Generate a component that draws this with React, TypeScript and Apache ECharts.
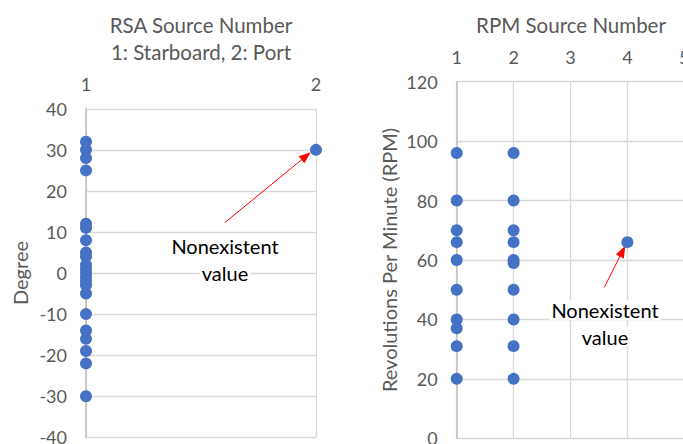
import React, { useEffect, useRef } from "react";
import * as echarts from "echarts";

// ---- Data ----
const rsaStarboardDegrees = [32, 30, 28, 25, 12, 11, 8, 5, 4, 2, 1, 0, -1, -2, -3, -5, -10, -14, -16, -19, -22, -30];
const rsaPortDegrees = [30];
const rpmSource1 = [96, 80, 70, 66, 60, 50, 40, 37, 31, 20];
const rpmSource2 = [96, 80, 70, 66, 60, 59, 50, 40, 31, 20];
const rpmSource4 = [66];
const rsaXTicks = [1, 2];
const rpmXTicks = [1, 2, 3, 4, 5];
const noteLines = ["Nonexistent", "value"];

const FONT = "Lato";
const GRAY = "#595959";
const GRID = "#d9d9d9";
const AXIS = "#bfbfbf";
const BLUE = "#4472C4";

export default function App() {
  const ref = useRef<HTMLDivElement>(null);
  useEffect(() => {
    if (!ref.current) return;
    const chart = echarts.init(ref.current, null, { renderer: "svg" });
    const labelStyle = { color: GRAY, fontSize: 18, fontFamily: FONT };
    const arrowLine = (from: number[], to: number[]) => ({
      silent: true,
      animation: false,
      symbol: ["none", "triangle"],
      symbolSize: [9, 12],
      lineStyle: { color: "#ff0000", width: 1, type: "solid" },
      label: { show: false },
      emphasis: { disabled: true },
      data: [[{ coord: from }, { coord: to }]],
    });
    const note = (x: number, y: number) =>
      noteLines.map((t, i) => ({
        type: "text",
        x,
        y: y + i * 26.5,
        z: 100,
        style: {
          text: t,
          fill: "#000000",
          fontSize: 20,
          fontFamily: FONT,
          align: "center",
          verticalAlign: "middle",
          backgroundColor: "#ffffff",
          padding: [0, 2, 0, 2],
        },
      }));
    chart.setOption({
      animation: false,
      backgroundColor: "#ffffff",
      textStyle: { fontFamily: FONT },
      grid: [
        { left: 86, top: 108.8, width: 230, height: 328.5, containLabel: false, outerBoundsMode: "none" },
        { left: 456.7, top: 81.7, width: 227.6, height: 356.6, containLabel: false, outerBoundsMode: "none" },
      ],
      xAxis: [
        {
          gridIndex: 0,
          type: "value",
          position: "top",
          min: rsaXTicks[0],
          max: rsaXTicks[rsaXTicks.length - 1],
          interval: 1,
          axisLine: { show: false },
          axisTick: { show: false },
          axisLabel: { ...labelStyle, margin: 16 },
          splitLine: { show: true, lineStyle: { color: GRID, width: 1.3 } },
        },
        {
          gridIndex: 1,
          type: "value",
          position: "top",
          min: rpmXTicks[0],
          max: rpmXTicks[rpmXTicks.length - 1],
          interval: 1,
          axisLine: { show: false },
          axisTick: { show: false },
          axisLabel: { ...labelStyle, margin: 16, showMaxLabel: true },
          splitLine: { show: true, lineStyle: { color: GRID, width: 1.3 } },
        },
      ],
      yAxis: [
        {
          gridIndex: 0,
          type: "value",
          min: -40,
          max: 40,
          interval: 10,
          axisLine: { show: true, lineStyle: { color: AXIS, width: 1.5 } },
          axisTick: { show: false },
          axisLabel: { ...labelStyle, margin: 19 },
          splitLine: { show: true, lineStyle: { color: GRID, width: 1.3 } },
        },
        {
          gridIndex: 1,
          type: "value",
          min: 0,
          max: 120,
          interval: 20,
          axisLine: { show: true, lineStyle: { color: AXIS, width: 1.5 } },
          axisTick: { show: false },
          axisLabel: { ...labelStyle, margin: 19 },
          splitLine: { show: true, lineStyle: { color: GRID, width: 1.3 } },
        },
      ],
      series: [
        {
          type: "scatter",
          xAxisIndex: 0,
          yAxisIndex: 0,
          symbolSize: 12,
          itemStyle: { color: BLUE, opacity: 1 },
          data: [
            ...rsaStarboardDegrees.map((v) => [1, v]),
            ...rsaPortDegrees.map((v) => [2, v]),
          ],
          markLine: arrowLine([1.604, 12.3], [1.957, 28.5]),
          z: 5,
        },
        {
          type: "scatter",
          xAxisIndex: 1,
          yAxisIndex: 1,
          symbolSize: 12,
          itemStyle: { color: BLUE, opacity: 1 },
          data: [
            ...rpmSource1.map((v) => [1, v]),
            ...rpmSource2.map((v) => [2, v]),
            ...rpmSource4.map((v) => [4, v]),
          ],
          markLine: arrowLine([3.594, 50.8], [3.915, 63.0]),
          z: 5,
        },
      ],
      graphic: [
        {
          type: "text",
          x: 201,
          y: 38.5,
          z: 100,
          style: {
            text: "RSA Source Number\n1: Starboard, 2: Port",
            fill: GRAY,
            fontSize: 20.5,
            fontFamily: FONT,
            align: "center",
            verticalAlign: "middle",
            lineHeight: 26.7,
          },
        },
        {
          type: "text",
          x: 571,
          y: 25,
          z: 100,
          style: {
            text: "RPM Source Number",
            fill: GRAY,
            fontSize: 20.5,
            fontFamily: FONT,
            align: "center",
            verticalAlign: "middle",
          },
        },
        {
          type: "text",
          x: 20,
          y: 273,
          z: 100,
          rotation: Math.PI / 2,
          style: {
            text: "Degree",
            fill: GRAY,
            fontSize: 20,
            fontFamily: FONT,
            align: "center",
            verticalAlign: "middle",
          },
        },
        {
          type: "text",
          x: 389,
          y: 260,
          z: 100,
          rotation: Math.PI / 2,
          style: {
            text: "Revolutions Per Minute (RPM)",
            fill: GRAY,
            fontSize: 20,
            fontFamily: FONT,
            align: "center",
            verticalAlign: "middle",
          },
        },
        ...note(225, 246),
        ...note(605, 310),
      ],
    });
    return () => chart.dispose();
  }, []);
  return (
    <div
      ref={ref}
      style={{ position: "fixed", left: 0, top: 0, width: 683, height: 444 }}
    />
  );
}
